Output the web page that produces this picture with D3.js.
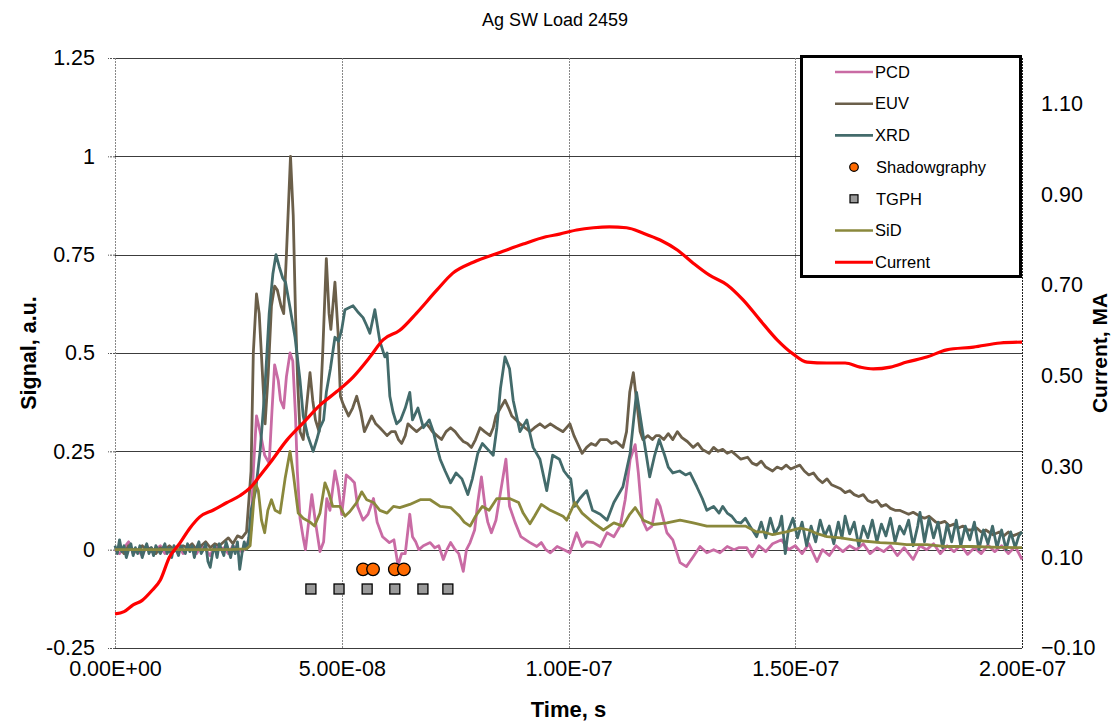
<!DOCTYPE html>
<html>
<head>
<meta charset="utf-8">
<script src="https://cdn.jsdelivr.net/npm/d3@7"></script>
<style>
  body { margin: 0; background: #fff; }
  svg { display: block; }
  text { font-family: "Liberation Sans", Arial, sans-serif; fill: #000; }
</style>
</head>
<body>
<svg></svg>
<script>
const width = 1114;
const height = 722;
const margin = ({top: 58, right: 92, bottom: 74, left: 115});

// tick values
const xTicks = [0, 5e-8, 1e-7, 1.5e-7, 2e-7];
const yTicks = [-0.25, 0, 0.25, 0.5, 0.75, 1, 1.25];
const y2Ticks = [-0.1, 0.1, 0.3, 0.5, 0.7, 0.9, 1.1];

// series as [time in ns, signal]
const pcd = [[0,0],[1,-0.01],[2,0.005],[3,0.02],[4,-0.01],[5,0],[6,-0.015],[7,0.01],[8,-0.005],[9,0],[10,0.01],[11,-0.01],[12,0],[13,-0.005],[14,0.01],[15,-0.01],[16,0.005],[17,0],[18,-0.01],[19,0.01],[20,0],[21,-0.015],[22,0.01],[23,0],[24,0.005],[25,-0.01],[26,0.01],[27,0],[28,-0.005],[29,0.005],
  [30,0.05],[30.5,0.2],[31.2,0.34],[32,0.3],[33,0.24],[34,0.22],[34.6,0.35],[35.2,0.47],[36,0.43],[36.5,0.38],[37.2,0.36],[37.8,0.44],[38.6,0.5],[39.2,0.48],[39.8,0.34],[40.2,0.2],[40.8,0.08],[41.5,0.03],[42,0],[42.6,0.06],[43.4,0.14],[44.2,0.07],[45.2,-0.005],[46,0.02],[46.7,0.13],[47.4,0.1],[48.5,0.2],[49.2,0.16],[50,0.09],[50.6,0.15],[51,0.19],[52,0.18],[52.8,0.17],[53.5,0.11],[54.7,0.075],[55.8,0.09],[57,0.13],[57.8,0.07],[59,0.033],[60.5,0.018],[61.5,0.025],[62.4,-0.04],[63.2,-0.01],[64,-0.01],[65,0.09],[65.6,0.033],[66.3,0.02],[67,0],[68,0.01],[69.5,0.018],[70.5,0.005],[71.4,0.01],[72.4,-0.025],[73.2,0],[74,0.018],[75,0],[75.8,-0.01],[76.8,-0.055],[77.5,0],[78.3,0.018],[79.3,0.05],[80,0.12],[80.8,0.185],[81.7,0.1],[82.2,0.07],[83,0.043],[84,0.075],[85,0.145],[86.2,0.23],[87,0.11],[88.2,0.07],[89.5,0.033],[91.5,0.018],[93,0.008],[94,0.018],[95,0],[96,-0.008],[97.5,0.008],[99,0],
  [100.3,-0.008],[101.8,0.043],[103,0.008],[104,0.02],[105.5,0.018],[107,0.008],[108.5,0.043],[110,0.033],[111.4,0.06],[112.5,0.127],[113.6,0.23],[114.7,0.267],[115.4,0.195],[116.3,0.075],[117.3,0.05],[118.4,0.06],[119.5,0.127],[120.2,0.11],[121.7,0.043],[123,0.025],[124.6,-0.033],[126,-0.043],[127.5,-0.018],[129,0.008],[130.5,-0.008],[132,0],[133.4,-0.008],[135,0.008],[136.5,0],[137.5,0.005],[139.3,0.005],[140.5,-0.018],[142,0.01],[143.5,-0.005],[145,0.015],[147,0.025],[148.5,0],[150,0.01],[151.5,-0.01],[153,0.015],[154.8,-0.03],[156,0],[157.5,-0.015],[159,0.01],[160.5,-0.005],[162,0.01],[163.5,0],[165,0.015],[166.5,-0.01],[168,0.005],[169.5,-0.005],[171,0.01],[172.5,-0.015],[174,0.005],[176,-0.025],[177.5,0.01],[179,0],[180.5,0.015],[182,-0.01],[183.5,0.01],[185,-0.005],[186.5,0.012],[188,-0.012],[189.5,0.005],[191,-0.01],[192.5,0.012],[194,-0.005],[195.5,0.01],[197,-0.01],[198.5,0.008],[200,-0.025]];

const euv = [[0,0],[1,0.005],[2,-0.01],[3,0.01],[4,0],[5,-0.005],[6,0.01],[7,0],[8,0.005],[9,-0.01],[10,0.005],[11,0],[12,0.01],[13,0],[14,-0.005],[15,0.01],[16,0.005],[17,0.015],[18,0],[19,0.01],[20,0.02],[21,0.005],[22,0.015],[23,0.01],[24,0.02],[25,0.03],[26,0.015],[27,0.035],[28,0.03],[29,0.045],
  [30,0.2],[30.5,0.5],[31.2,0.65],[31.8,0.6],[32.5,0.45],[33.1,0.32],[33.8,0.45],[34.5,0.62],[35.2,0.67],[35.8,0.66],[36.6,0.62],[37.2,0.6],[37.8,0.75],[38.7,1],[39.3,0.85],[39.8,0.6],[40.3,0.42],[40.8,0.3],[41.5,0.28],[42.2,0.36],[43,0.45],[43.6,0.38],[44.2,0.33],[45,0.3],[45.8,0.5],[46.6,0.74],[47.2,0.6],[47.6,0.56],[48.5,0.68],[49.2,0.55],[49.7,0.39],[50.3,0.37],[51.5,0.34],[52.4,0.36],[53.3,0.39],[54.2,0.35],[55,0.3],[55.8,0.32],[56.6,0.34],[57.5,0.32],[58.4,0.31],[59.2,0.3],[60,0.29],[60.9,0.3],[61.8,0.3],[62.5,0.28],[63.2,0.27],[64,0.29],[64.6,0.32],[65.5,0.31],[66.5,0.3],[67.5,0.31],[68.7,0.32],[69.4,0.31],[70,0.3],[71,0.29],[72,0.28],[73,0.3],[74,0.31],[75,0.3],[76,0.285],[76.8,0.275],[77.7,0.27],[78.6,0.26],[79.5,0.28],[80.5,0.31],[81.5,0.3],[82.7,0.29],[83.4,0.31],[84,0.34],[85,0.36],[86,0.38],[86.8,0.36],[87.5,0.34],[88.4,0.33],[89.3,0.32],[90.4,0.31],[91.5,0.3],[92.5,0.31],[93.7,0.32],[94.8,0.31],[96,0.32],[97.3,0.31],[98.8,0.3],
  [100.3,0.32],[101.2,0.29],[102,0.27],[103,0.245],[104,0.26],[105,0.27],[106,0.265],[107,0.28],[108.5,0.28],[109.5,0.27],[110.5,0.275],[112,0.26],[112.8,0.3],[113.5,0.4],[114.3,0.45],[115,0.38],[115.8,0.3],[116.4,0.28],[117.5,0.29],[118.5,0.28],[119.3,0.29],[120,0.29],[121,0.28],[122,0.295],[123,0.28],[124,0.3],[125,0.285],[126.2,0.275],[127.5,0.26],[128.5,0.27],[129.5,0.255],[131,0.245],[132,0.26],[133,0.25],[134,0.255],[135,0.245],[136,0.25],[137,0.24],[138,0.23],[139.5,0.235],[140.5,0.22],[141.5,0.215],[142.5,0.225],[143.5,0.21],[145,0.2],[146,0.21],[147,0.205],[148,0.215],[149,0.205],[150,0.21],[151,0.215],[152,0.2],[153,0.19],[154,0.195],[155,0.18],[156,0.17],[157,0.18],[158,0.165],[159,0.16],[160,0.155],[161,0.145],[162,0.15],[163,0.14],[164,0.135],[165,0.14],[166,0.125],[167,0.12],[168,0.125],[169,0.11],[170,0.115],[171,0.105],[172,0.1],[173,0.1],[174,0.095],[175,0.09],[176,0.095],[177.5,0.085],[178.5,0.08],[179.5,0.085],[181,0.07],[182,0.068],[183,0.072],[184,0.06],[185,0.065],[186,0.055],[187,0.06],[188,0.05],[189,0.05],[190,0.055],[191,0.045],[192,0.05],[193.6,0.038],[195,0.045],[196,0.035],[197,0.045],[198,0.035],[199,0.04],[200,0.045]];

const xrd = [[0,0.01],[0.5,-0.01],[1,0.025],[1.5,-0.005],[2,0.01],[2.5,-0.02],[3,0],[3.5,0.015],[4,-0.015],[4.5,0.005],[5,-0.01],[5.5,0.01],[6,-0.02],[6.5,0],[7,0.015],[7.5,-0.01],[8,0.005],[8.5,-0.015],[9,0.01],[9.5,0],[10,-0.01],[11,0.015],[11.5,-0.01],[12,0.005],[12.5,-0.02],[13,0.01],[13.5,0],[14,-0.015],[14.5,0.01],[15,0],[15.5,-0.01],[16,0.015],[16.5,-0.005],[17,0.01],[17.5,-0.02],[18,0.005],[18.5,0.02],[19,-0.01],[19.5,0],[20,0.015],[20.5,-0.03],[21,-0.045],[21.5,-0.01],[22,0.01],[22.5,-0.02],[23,0.015],[23.5,0],[24,-0.015],[24.5,0.02],[25,0],[25.5,-0.02],[26,0.01],[26.5,-0.01],[27,0.02],[27.5,-0.05],[28,-0.01],[28.5,0.02],[29,0],[29.5,0.03],
  [30,0.1],[31,0.15],[32,0.25],[33,0.4],[34,0.6],[34.8,0.7],[35.5,0.75],[36.2,0.72],[37,0.69],[37.6,0.68],[38.6,0.615],[39.7,0.54],[40.8,0.43],[41.5,0.34],[42.5,0.29],[43.7,0.25],[44.5,0.28],[45.2,0.31],[46,0.33],[46.6,0.4],[47.5,0.46],[48.5,0.54],[49.3,0.53],[50,0.56],[50.7,0.61],[52.5,0.62],[53.5,0.605],[54.7,0.59],[55.5,0.57],[56.2,0.55],[57.3,0.61],[58.4,0.53],[59.5,0.49],[60,0.5],[60.6,0.39],[61.3,0.35],[62.1,0.32],[63,0.33],[64,0.36],[65,0.4],[65.6,0.33],[66.8,0.36],[68,0.31],[69.3,0.33],[70.2,0.3],[71,0.26],[71.7,0.23],[72.8,0.2],[74,0.17],[75.2,0.195],[76.5,0.18],[77.8,0.14],[78.8,0.18],[80,0.245],[81,0.27],[82.2,0.255],[83.4,0.24],[84.2,0.31],[85,0.41],[86,0.49],[87,0.46],[87.8,0.38],[89.3,0.3],[90.8,0.33],[92.2,0.26],[93.7,0.23],[95.2,0.15],[96.5,0.24],[98,0.23],[99,0.2],[100,0.185],
  [100.5,0.18],[101.3,0.11],[102.5,0.13],[104,0.15],[105.3,0.1],[107,0.09],[108.5,0.075],[110,0.12],[112,0.16],[113.6,0.245],[115,0.4],[116.2,0.31],[117.3,0.23],[117.9,0.185],[119,0.24],[120,0.28],[121.2,0.24],[122,0.21],[123,0.195],[124.5,0.2],[125.8,0.19],[126.8,0.195],[128.3,0.16],[129.5,0.13],[130.5,0.1],[132,0.11],[133.2,0.093],[134,0.11],[135,0.093],[136,0.085],[137,0.07],[138,0.068],[139,0.08],[140,0.06],[141.5,0.033],[142.5,0.07],[143.5,0.03],[144.5,0.08],[145.5,0.04],[146.5,0.06],[147,0.085],[147.8,-0.01],[148.5,0.05],[149.5,0.08],[150.5,0.03],[151.5,0.07],[152.5,0.01],[153.5,0.06],[154.5,0.02],[155.5,0.075],[156.5,0.035],[157.5,0.06],[158.5,0.015],[159.5,0.07],[160.3,0.03],[161,0.085],[162,0.04],[163,0.07],[164,0.01],[165,0.06],[166,0.03],[167,0.075],[168,0.02],[169,0.065],[170,0.035],[171,0.08],[172,0.02],[173,0.06],[174,0.04],[175,0.075],[176,0.01],[177,0.06],[177.5,0.095],[178.5,0.02],[179.5,0.08],[180.5,0.03],[181.5,0.07],[182.5,0.005],[183.5,0.065],[184.5,0.02],[185.5,0.075],[186.5,0.01],[187.5,0.06],[188.5,0.025],[189.5,0.07],[190.5,0],[191.5,0.05],[192.5,0.015],[193.5,0.06],[194.5,0.005],[195.5,0.05],[196.5,0],[197.5,0.045],[198.5,0.005],[199.3,0.035],[200,0.045]];

const sid = [[0,0],[5,0],[10,0],[15,0],[20,0],[25,0],[29,0.002],[29.8,0.01],[30.3,0.08],[30.9,0.17],[31.6,0.15],[32.3,0.075],[33,0.043],[33.7,0.1],[34.5,0.127],[35.3,0.1],[36.4,0.093],[37.5,0.18],[38.6,0.25],[39.3,0.195],[40.4,0.093],[41.5,0.08],[43,0.07],[44,0.06],[45.2,0.093],[46.3,0.17],[47,0.15],[48,0.11],[49.6,0.11],[50.7,0.085],[51.8,0.097],[53.3,0.12],[54.4,0.147],[55.5,0.127],[57,0.12],[58.4,0.1],[60,0.093],[61.4,0.11],[62.8,0.107],[65,0.115],[67.3,0.127],[69.5,0.127],[71.7,0.11],[74,0.107],[76,0.085],[77,0.07],[78.3,0.06],[79.5,0.085],[81,0.11],[82.5,0.1],[84.2,0.13],[87,0.13],[89,0.12],[90,0.093],[91.5,0.066],[92.5,0.085],[94,0.115],[96,0.1],[98.8,0.085],[99.6,0.075],[101.4,0.12],[103,0.093],[105.5,0.068],[107.7,0.05],[110,0.068],[112,0.06],[113.5,0.09],[114.7,0.107],[116.5,0.075],[118.7,0.064],[121.7,0.068],[124.6,0.075],[127.5,0.068],[130.5,0.06],[135,0.06],[139,0.06],[141.5,0.045],[143,0.045],[145,0.038],[148,0.045],[151,0.055],[153,0.05],[155,0.04],[157,0.033],[160,0.03],[162.8,0.025],[165,0.022],[168.7,0.018],[172,0.016],[174.6,0.013],[179,0.013],[183.4,0.008],[189,0.008],[195,0.006],[200,0.005]];

// current on the right axis, [ns, MA]
const current = [[0,-0.025],[2,-0.02],[4,-0.005],[6,0.005],[8,0.025],[10,0.05],[12,0.1],[14.3,0.131],[16.5,0.164],[18.7,0.189],[21.7,0.204],[24.6,0.22],[27.6,0.236],[30,0.255],[32,0.28],[34.2,0.308],[37.9,0.358],[41.5,0.396],[45.2,0.435],[48.9,0.465],[52.5,0.497],[56.2,0.541],[59.1,0.579],[62.8,0.6],[66.5,0.638],[71,0.689],[74.5,0.726],[79,0.75],[85,0.772],[90,0.79],[95,0.806],[98,0.812],[101.8,0.821],[105.5,0.826],[109,0.828],[112.8,0.826],[116.5,0.814],[120.2,0.799],[124,0.777],[127.5,0.748],[131,0.722],[135,0.7],[138.5,0.667],[142.2,0.623],[146,0.579],[149.5,0.548],[152.6,0.53],[157,0.528],[161,0.528],[164.3,0.519],[167.2,0.515],[171,0.519],[174.6,0.53],[179,0.541],[183.4,0.557],[189.3,0.563],[195.2,0.572],[200,0.574]];

// point markers, [ns, signal]
const shadowgraphy = [[54.7,-0.05],[56.9,-0.05],[61.7,-0.05],[63.7,-0.05]];
const tgph = [[43.2,-0.1],[49.4,-0.1],[55.6,-0.1],[61.7,-0.1],[67.9,-0.1],[73.4,-0.1]];

const legendNames = ["PCD", "EUV", "XRD", "Shadowgraphy", "TGPH", "SiD", "Current"];

const colors = {
    PCD: "#c96ba4",
    EUV: "#6b5f4a",
    XRD: "#436b6b",
    SiD: "#8a883c",
    Current: "#ff0000",
    Shadowgraphy: "#ff6a00",
    TGPH: "#9a9a9a"
};

const svg = d3.select("svg")
    .attr("width", width)
    .attr("height", height)
    .attr("viewBox", [0, 0, width, height]);

const x = d3.scaleLinear()
    .domain([0, 2e-7])
    .range([margin.left, width - margin.right]);

const y = d3.scaleLinear()
    .domain([-0.25, 1.25])
    .range([height - margin.bottom, margin.top]);

const y2 = d3.scaleLinear()
    .domain([-0.1, 1.2])
    .range([height - margin.bottom, margin.top]);

const x0 = margin.left, x1 = width - margin.right;
const yTop = margin.top, yBot = height - margin.bottom;
const tickFont = 21.5;

function sciFmt(d) {
    if (d === 0) return "0.00E+00";
    const [m, e] = d.toExponential(2).split("e");
    const n = Math.abs(+e);
    return `${m}E${+e < 0 ? "-" : "+"}${n < 10 ? "0" + n : n}`;
}

// horizontal grid
svg.append("g")
    .selectAll("line")
    .data(yTicks)
    .join("line")
    .attr("x1", x0)
    .attr("x2", x1)
    .attr("y1", d => Math.round(y(d)) + 0.5)
    .attr("y2", d => Math.round(y(d)) + 0.5)
    .attr("stroke", "#3c3c3c")
    .attr("stroke-width", 1);

// vertical dotted grid + left edge
svg.append("g")
    .selectAll("line")
    .data(xTicks.slice(0, 4))
    .join("line")
    .attr("x1", d => Math.round(x(d)) + 0.5)
    .attr("x2", d => Math.round(x(d)) + 0.5)
    .attr("y1", yTop)
    .attr("y2", yBot)
    .attr("stroke", "#888")
    .attr("stroke-dasharray", "2,1");

// right edge (darker dots)
svg.append("line")
    .attr("x1", Math.round(x1) + 0.5)
    .attr("x2", Math.round(x1) + 0.5)
    .attr("y1", yTop)
    .attr("y2", yBot)
    .attr("stroke", "#222")
    .attr("stroke-dasharray", "2,1");

// left axis
const yAxis = g => g
    .attr("transform", `translate(${x0},0)`)
    .call(d3.axisLeft(y).tickValues(yTicks).tickSize(7).tickPadding(13)
        .tickFormat(d => d === 0 ? "0" : String(d)))
    .call(g => g.select(".domain").remove())
    .call(g => g.selectAll(".tick line").attr("stroke", "#555").attr("stroke-dasharray", "2,1"))
    .call(g => g.selectAll(".tick text").attr("font-size", tickFont).attr("font-family", "Liberation Sans, Arial, sans-serif").attr("fill", "#000"));

svg.append("g").call(yAxis);

// right axis
const y2Axis = g => g
    .attr("transform", `translate(${x1},0)`)
    .call(d3.axisRight(y2).tickValues(y2Ticks).tickSize(0).tickPadding(19)
        .tickFormat(d3.format(".2f")))
    .call(g => g.select(".domain").remove())
    .call(g => g.selectAll(".tick text").attr("font-size", tickFont).attr("font-family", "Liberation Sans, Arial, sans-serif").attr("fill", "#000"));

svg.append("g").call(y2Axis);

// bottom axis
const xAxis = g => g
    .attr("transform", `translate(0,${yBot})`)
    .call(d3.axisBottom(x).tickValues(xTicks).tickSize(0).tickPadding(13).tickFormat(sciFmt))
    .call(g => g.select(".domain").remove())
    .call(g => g.selectAll(".tick text").attr("font-size", tickFont).attr("font-family", "Liberation Sans, Arial, sans-serif").attr("fill", "#000"));

svg.append("g").call(xAxis);

// titles
svg.append("text")
    .attr("x", 555)
    .attr("y", 26)
    .attr("text-anchor", "middle")
    .attr("font-size", 18)
    .text("Ag SW Load 2459");

svg.append("text")
    .attr("x", (x0 + x1) / 2)
    .attr("y", 717)
    .attr("text-anchor", "middle")
    .attr("font-size", 22)
    .attr("font-weight", "bold")
    .text("Time, s");

svg.append("text")
    .attr("transform", `translate(36,${(yTop + yBot) / 2}) rotate(-90)`)
    .attr("text-anchor", "middle")
    .attr("font-size", 21.5)
    .attr("font-weight", "bold")
    .text("Signal, a.u.");

svg.append("text")
    .attr("transform", `translate(1107,${(yTop + yBot) / 2}) rotate(-90)`)
    .attr("text-anchor", "middle")
    .attr("font-size", 21)
    .attr("font-weight", "bold")
    .text("Current, MA");

// series
const line = d3.line()
    .x(d => x(d[0] * 1e-9))
    .y(d => y(d[1]));

const series = [
    {name: "PCD", data: pcd},
    {name: "EUV", data: euv},
    {name: "XRD", data: xrd},
    {name: "SiD", data: sid}
];

svg.append("g")
    .attr("fill", "none")
    .attr("stroke-linejoin", "round")
    .selectAll("path")
    .data(series)
    .join("path")
    .attr("stroke", d => colors[d.name])
    .attr("stroke-width", 2.8)
    .attr("d", d => line(d.data));

const currentLine = d3.line()
    .curve(d3.curveMonotoneX)
    .x(d => x(d[0] * 1e-9))
    .y(d => y2(d[1]));

svg.append("path")
    .attr("fill", "none")
    .attr("stroke", colors.Current)
    .attr("stroke-width", 3.2)
    .attr("stroke-linejoin", "round")
    .attr("d", currentLine(current));

// markers
svg.append("g")
    .selectAll("circle")
    .data(shadowgraphy)
    .join("circle")
    .attr("cx", d => x(d[0] * 1e-9))
    .attr("cy", d => y(d[1]))
    .attr("r", 6.3)
    .attr("fill", colors.Shadowgraphy)
    .attr("stroke", "#000")
    .attr("stroke-width", 1.3);

svg.append("g")
    .selectAll("rect")
    .data(tgph)
    .join("rect")
    .attr("x", d => x(d[0] * 1e-9) - 5)
    .attr("y", d => y(d[1]) - 5)
    .attr("width", 10)
    .attr("height", 10)
    .attr("fill", colors.TGPH)
    .attr("stroke", "#000")
    .attr("stroke-width", 1.3);

// legend
const legend = svg.append("g");
legend.append("rect")
    .attr("x", 801.5)
    .attr("y", 56.5)
    .attr("width", 219)
    .attr("height", 220)
    .attr("fill", "#fff")
    .attr("stroke", "#000")
    .attr("stroke-width", 3);

const items = legend.selectAll("g")
    .data(legendNames)
    .join("g")
    .attr("transform", (d, i) => `translate(0,${72 + i * 31.7})`);

items.filter(d => d !== "Shadowgraphy" && d !== "TGPH")
    .append("line")
    .attr("x1", 835)
    .attr("x2", 873)
    .attr("stroke", d => colors[d])
    .attr("stroke-width", d => d === "Current" ? 3 : 2.6);

items.filter(d => d === "Shadowgraphy")
    .append("circle")
    .attr("cx", 854)
    .attr("r", 4.3)
    .attr("fill", colors.Shadowgraphy)
    .attr("stroke", "#000")
    .attr("stroke-width", 1.2);

items.filter(d => d === "TGPH")
    .append("rect")
    .attr("x", 850)
    .attr("y", -4)
    .attr("width", 8)
    .attr("height", 8)
    .attr("fill", colors.TGPH)
    .attr("stroke", "#000")
    .attr("stroke-width", 1.2);

items.append("text")
    .attr("x", d => (d === "Shadowgraphy" || d === "TGPH") ? 876 : 875)
    .attr("dy", "0.35em")
    .attr("font-size", 16.5)
    .text(d => d);
</script>
</body>
</html>
